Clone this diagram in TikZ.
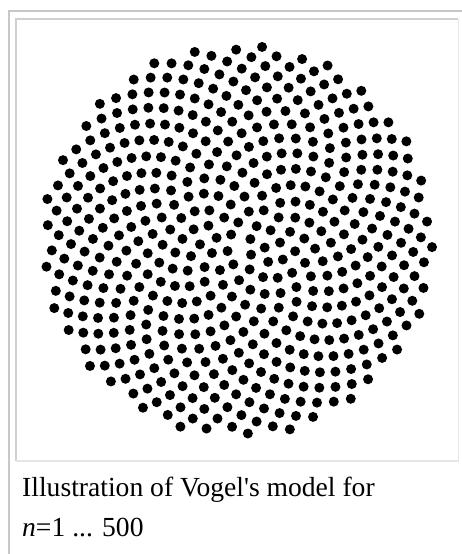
\documentclass[tikz,border=0pt]{standalone}
\usepackage{fontspec}
\newfontfamily\capfont{Liberation Serif}
\definecolor{framegray}{HTML}{C8C8C8}
\definecolor{innergray}{HTML}{D0D0D0}
\definecolor{edgegray}{HTML}{E6E6E6}
\begin{document}
\begin{tikzpicture}[x=1pt,y=1pt,
  seed/.style={fill=black},
  caption/.style={anchor=base west,inner sep=0pt,
    font=\capfont\fontsize{27.6}{40}\selectfont}]
\useasboundingbox (0,0) rectangle (462,554);
% thumb frame
\draw[framegray,line width=2pt] (9,0) -- (9,543) -- (462,543);
\draw[innergray,line width=2pt] (16,93) -- (16,535) -- (458,535);
\draw[edgegray,line width=1.5pt] (458.5,535) -- (458.5,93) -- (16,93);
% Vogel model, n = 1 ... 500
\foreach \n in {1,...,500}{
  \edef\px{\fpeval{round(238+8.78*sqrt(\n)*cosd(279.2-137.50776*\n),3)}}
  \edef\py{\fpeval{round(314+8.78*sqrt(\n)*sind(279.2-137.50776*\n),3)}}
  \fill[seed] (\px,\py) circle (5);
}
\node[caption] (capA) at (22,57) {Illustration of Vogel's model for};
\node[caption] (capB) at (22,17) {\textit{n}=1 ... 500};
\end{tikzpicture}
\end{document}
